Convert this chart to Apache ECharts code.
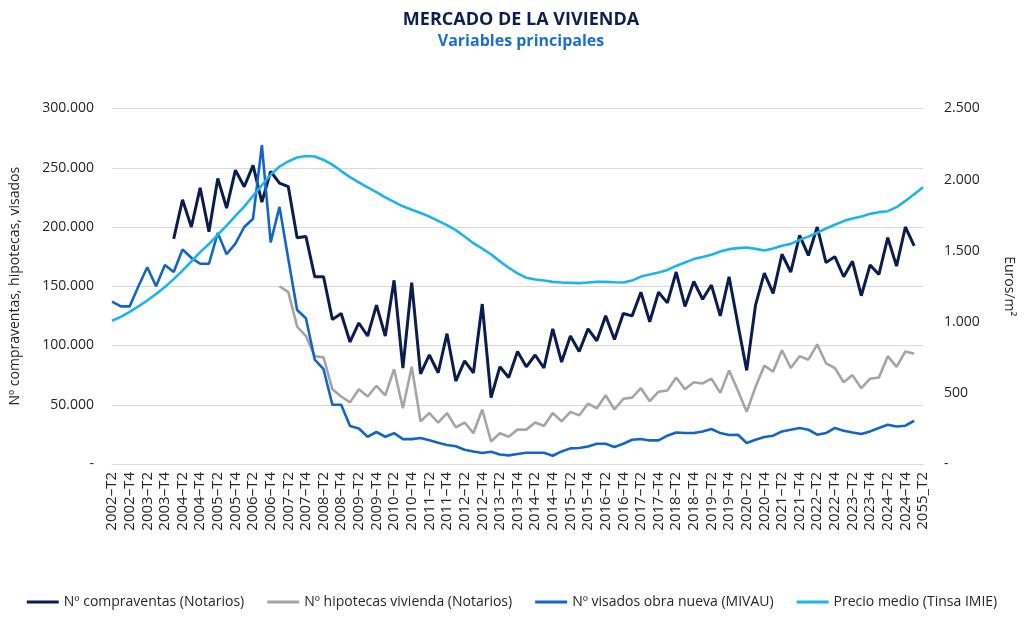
<!DOCTYPE html>
<html>
<head>
<meta charset="utf-8">
<script src="https://cdn.jsdelivr.net/npm/echarts@6/dist/echarts.min.js"></script>
<style>
html,body{margin:0;padding:0;background:#fff;}
#chart{width:1024px;height:624px;}
</style>
</head>
<body>
<div id="chart"></div>
<script>
const categories = [
"2002–T2","2002–T3","2002–T4",
"2003–T1","2003–T2","2003–T3","2003–T4",
"2004–T1","2004–T2","2004–T3","2004–T4",
"2005–T1","2005–T2","2005–T3","2005–T4",
"2006–T1","2006–T2","2006–T3","2006–T4",
"2007–T1","2007–T2","2007–T3","2007–T4",
"2008–T1","2008–T2","2008–T3","2008–T4",
"2009–T1","2009–T2","2009–T3","2009–T4",
"2010–T1","2010–T2","2010–T3","2010–T4",
"2011–T1","2011–T2","2011–T3","2011–T4",
"2012–T1","2012–T2","2012–T3","2012–T4",
"2013–T1","2013–T2","2013–T3","2013–T4",
"2014–T1","2014–T2","2014–T3","2014–T4",
"2015–T1","2015–T2","2015–T3","2015–T4",
"2016–T1","2016–T2","2016–T3","2016–T4",
"2017–T1","2017–T2","2017–T3","2017–T4",
"2018–T1","2018–T2","2018–T3","2018–T4",
"2019–T1","2019–T2","2019–T3","2019–T4",
"2020–T1","2020–T2","2020–T3","2020–T4",
"2021–T1","2021–T2","2021–T3","2021–T4",
"2022–T1","2022–T2","2022–T3","2022–T4",
"2023–T1","2023–T2","2023–T3","2023–T4",
"2024–T1","2024–T2","2024–T3","2024–T4",
"2025–T1","2055_T2"
];

const compraventas = [
null,null,null,null,null,null,null,
190000,223000,200000,233000,196000,241000,216000,248000,234000,252000,
221000,247000,237000,234000,191000,192000,158000,158000,122000,127000,
103000,119000,108000,134000,108000,155000,81000,153000,76000,92000,
77000,110000,70000,87000,77000,135000,56000,82000,73000,95000,
82000,92000,81000,114000,86000,108000,95000,114000,104000,125000,
105000,127000,125000,145000,120000,145000,136000,162000,133000,154000,
139000,151000,125000,158000,118000,79000,134000,161000,144000,177000,
162000,193000,176000,200000,170000,175000,158000,171000,142000,168000,
160000,191000,167000,200000,184000,
null
];

const hipotecas = [
null,null,null,null,null,null,null,null,null,null,
null,null,null,null,null,null,null,null,null,
150000,145000,116000,108000,91000,90000,63000,57000,52000,63000,
57000,66000,58000,80000,47000,82000,36000,43000,35000,43000,
31000,35000,26000,46000,19000,26000,23000,29000,29000,35000,
32000,43000,36000,44000,41000,51000,47000,58000,46000,55000,
56000,64000,53000,61000,62000,73000,63000,69000,68000,72000,
60000,79000,62000,44000,65000,83000,78000,96000,81000,91000,
88000,101000,85000,81000,69000,75000,64000,72000,73000,91000,
82000,95000,93000,
null
];

const visados = [
137000,133000,133000,150000,166000,150000,168000,162000,181000,174000,
169000,169000,195000,177000,186000,200000,207000,269000,187000,217000,
173000,130000,123000,88000,80000,50000,50000,32000,30000,23000,
27000,23000,26000,21000,21000,22000,20000,18000,16000,15000,
12000,10500,9300,10400,8000,7300,8400,9500,9500,9500,
7000,10600,13200,13500,14800,17100,17100,14300,17100,20500,
21100,19900,19900,23900,26600,26100,26100,27500,29500,26100,
24500,24700,17700,20500,22800,23900,27500,28900,30400,28900,
24700,26100,30400,28100,26600,25300,27500,30400,33100,31700,
32300,36500,
null
];

const precio = [
1007,1035,1070,1108,1150,1195,1245,1300,1360,1424,
1490,1547,1612,1676,1745,1810,1885,1960,2035,2092,
2128,2155,2166,2162,2138,2105,2060,2017,1980,1945,
1912,1875,1843,1812,1788,1765,1740,1710,1680,1645,
1600,1553,1515,1475,1425,1380,1340,1310,1298,1290,
1281,1276,1274,1272,1276,1281,1281,1278,1276,1290,
1318,1332,1346,1365,1393,1417,1441,1455,1471,1494,
1511,1518,1522,1513,1501,1515,1535,1548,1576,1599,
1627,1656,1682,1708,1726,1740,1759,1771,1778,1806,
1850,1897,1946
];

const seriesNames = [
"Nº compraventas (Notarios)",
"Nº hipotecas vivienda (Notarios)",
"Nº visados obra nueva (MIVAU)",
"Precio medio (Tinsa IMIE)"
];

const leftTicks = [0, 50000, 100000, 150000, 200000, 250000, 300000];
const rightTicks = [0, 500, 1000, 1500, 2000, 2500];

function fmt(v) {
  if (v === 0) return '-';
  return String(v).replace(/\B(?=(\d{3})+(?!\d))/g, '.');
}

const FONT = '"Open Sans", "Noto Sans", sans-serif';
const chart = echarts.init(document.getElementById('chart'), null, {renderer: 'canvas'});

chart.setOption({
  backgroundColor: '#ffffff',
  animation: false,
  textStyle: {fontFamily: FONT},
  graphic: [
    {type: 'text', x: 521, y: 11, style: {text: 'MERCADO DE LA VIVIENDA', fill: '#0e1f4d', font: 'bold 18px ' + FONT, textAlign: 'center', textVerticalAlign: 'top'}},
    {type: 'text', x: 521, y: 33, style: {text: 'Variables principales', fill: '#1b6fd0', font: 'bold 16px ' + FONT, textAlign: 'center', textVerticalAlign: 'top'}}
  ],
  grid: {left: 108, right: 97, top: 108.5, bottom: 160, containLabel: false},
  legend: {
    data: seriesNames,
    icon: 'rect',
    left: 'center',
    top: 589,
    itemWidth: 32,
    itemHeight: 3,
    itemGap: 23,
    textStyle: {fontFamily: FONT, fontSize: 14, color: '#262626', lineHeight: 16}
  },
  xAxis: {
    type: 'category',
    data: categories,
    boundaryGap: false,
    axisLine: {show: true, lineStyle: {color: '#d9d9d9', width: 1}},
    axisTick: {show: false},
    splitLine: {show: false},
    axisLabel: {interval: 1, rotate: 90, margin: 8, fontFamily: FONT, fontSize: 15, color: '#262626'}
  },
  yAxis: [
    {
      type: 'value', min: leftTicks[0], max: leftTicks[leftTicks.length - 1], interval: leftTicks[1] - leftTicks[0],
      position: 'left',
      name: 'Nº compraventas, hipotecas, visados',
      nameLocation: 'middle', nameRotate: 90, nameGap: 90,
      nameTextStyle: {fontFamily: FONT, fontSize: 14, color: '#262626'},
      axisLine: {show: false}, axisTick: {show: false},
      splitLine: {show: true, lineStyle: {color: '#d9d9d9', width: 1}},
      axisLabel: {formatter: fmt, margin: 18, fontFamily: FONT, fontSize: 14, color: '#262626'}
    },
    {
      type: 'value', min: rightTicks[0], max: rightTicks[rightTicks.length - 1], interval: rightTicks[1] - rightTicks[0],
      position: 'right',
      name: 'Euros/m²',
      nameLocation: 'middle', nameRotate: -90, nameGap: 79,
      nameTextStyle: {fontFamily: FONT, fontSize: 14, color: '#262626'},
      axisLine: {show: false}, axisTick: {show: false},
      splitLine: {show: false},
      axisLabel: {formatter: fmt, margin: 21, fontFamily: FONT, fontSize: 14, color: '#262626'}
    }
  ],
  series: [
    {name: seriesNames[0], type: 'line', yAxisIndex: 0, data: compraventas, symbol: 'none', connectNulls: false,
     lineStyle: {color: '#0b1d4e', width: 3}, itemStyle: {color: '#0b1d4e'}},
    {name: seriesNames[1], type: 'line', yAxisIndex: 0, data: hipotecas, symbol: 'none', connectNulls: false,
     lineStyle: {color: '#a5a5a5', width: 2.6}, itemStyle: {color: '#a5a5a5'}},
    {name: seriesNames[2], type: 'line', yAxisIndex: 0, data: visados, symbol: 'none', connectNulls: false,
     lineStyle: {color: '#1366c6', width: 2.6}, itemStyle: {color: '#1366c6'}},
    {name: seriesNames[3], type: 'line', yAxisIndex: 1, data: precio, symbol: 'none', connectNulls: false,
     lineStyle: {color: '#1db4ec', width: 2.6}, itemStyle: {color: '#1db4ec'}}
  ]
});
</script>
</body>
</html>
